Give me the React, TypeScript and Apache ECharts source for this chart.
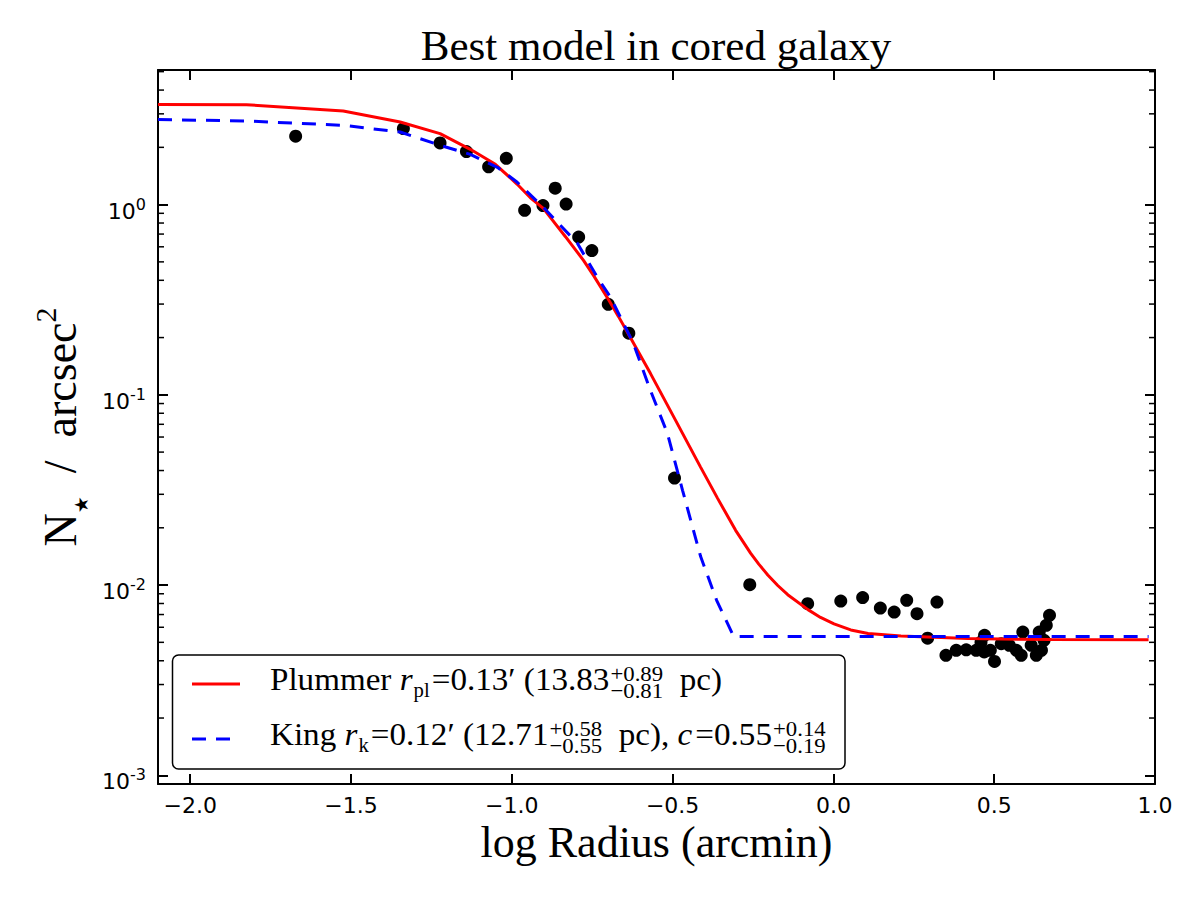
import React, { useEffect, useRef } from 'react';
import * as echarts from 'echarts';

// ---- axis ranges ----
const X_MIN = -2.1;
const X_MAX = 1.0;
const Y_MIN = 9e-4;
const Y_MAX = 5.1;

// ---- tick labels ----
const xTickValues = [-2.0, -1.5, -1.0, -0.5, 0.0, 0.5, 1.0];
const xTickLabels = ['−2.0', '−1.5', '−1.0', '−0.5', '0.0', '0.5', '1.0'];
const yTickExponents = [-3, -2, -1, 0];
const minorMantissas = [2, 3, 4, 5, 6, 7, 8, 9];

// ---- observed profile (log radius, surface density) ----
const obsLogR = [
  -1.672, -1.337, -1.223, -1.141, -1.072, -1.017, -0.96, -0.903, -0.865, -0.831,
  -0.792, -0.751, -0.7, -0.636, -0.494, -0.26, -0.08, 0.023, 0.091, 0.146,
  0.189, 0.228, 0.26, 0.322, 0.293, 0.35, 0.382, 0.413, 0.444, 0.459,
  0.47, 0.469, 0.488, 0.501, 0.522, 0.547, 0.569, 0.584, 0.589, 0.615,
  0.631, 0.647, 0.64, 0.655, 0.662, 0.672,
];
const obsDensity = [
  2.29, 2.51, 2.11, 1.9, 1.58, 1.75, 0.933, 0.988, 1.22, 1.007,
  0.675, 0.573, 0.299, 0.211, 0.0365, 0.01005, 0.00798, 0.00824, 0.00859, 0.00757,
  0.00721, 0.00831, 0.00707, 0.00814, 0.00526, 0.00427, 0.00454, 0.00457, 0.00454, 0.00501,
  0.00544, 0.00445, 0.00454, 0.00397, 0.00492, 0.00482, 0.00454, 0.00427, 0.00566, 0.00482,
  0.00427, 0.00454, 0.00566, 0.00512, 0.00614, 0.00693,
];

// ---- Plummer model curve ----
const plummerLogR = [
  -2.1, -1.825, -1.524, -1.347, -1.223, -1.129, -1.051, -0.983, -0.942, -0.902,
  -0.833, -0.777, -0.745, -0.699, -0.668, -0.637, -0.569, -0.491, -0.413, -0.36,
  -0.304, -0.257, -0.232, -0.204, -0.173, -0.142, -0.079, -0.04, 0.002, 0.054,
  0.108, 0.21, 0.419, 0.678, 0.98,
];
const plummerDensity = [
  3.356, 3.35, 3.105, 2.719, 2.362, 1.953, 1.629, 1.279, 1.086, 0.956,
  0.678, 0.5095, 0.422, 0.3158, 0.2577, 0.208, 0.1297, 0.0736, 0.0417, 0.02856,
  0.01939, 0.01468, 0.01288, 0.0113, 0.00995, 0.0089, 0.00743, 0.00676, 0.00625, 0.00581,
  0.00557, 0.0054, 0.00523, 0.00517, 0.00516,
];

// ---- King model curve ----
const kingLogR = [
  -2.1, -1.825, -1.525, -1.347, -1.223, -1.129, -1.045, -0.983, -0.902, -0.796,
  -0.734, -0.693, -0.622, -0.569, -0.516, -0.469, -0.413, -0.363, -0.31, 0.98,
];
const kingDensity = [
  2.798, 2.751, 2.612, 2.408, 2.05, 1.838, 1.571, 1.31, 0.968, 0.626,
  0.4148, 0.3256, 0.1866, 0.1056, 0.0627, 0.03147, 0.01416, 0.00831, 0.00537, 0.00537,
];

const SERIF = '"Liberation Serif", "Times New Roman", serif';
const SANS = '"DejaVu Sans", sans-serif';

function zip(a: number[], b: number[]) {
  return a.map((v, i) => [v, b[i]]);
}

let measureCtx: CanvasRenderingContext2D | null = null;
function measure(text: string, size: number, italic: boolean) {
  if (!measureCtx) measureCtx = document.createElement('canvas').getContext('2d');
  if (!measureCtx) return text.length * size * 0.5;
  measureCtx.font = `${italic ? 'italic ' : ''}${size}px "Liberation Serif"`;
  return measureCtx.measureText(text).width;
}

function txt(x: number, baseline: number, text: string, size: number, italic = false) {
  return {
    type: 'text',
    x,
    y: baseline - 0.3375 * size,
    silent: true,
    z: 101,
    style: {
      text,
      fontFamily: SERIF,
      fontSize: size,
      fontStyle: italic ? 'italic' : 'normal',
      fill: '#000',
      align: 'left',
      textAlign: 'left',
      verticalAlign: 'middle',
      textVerticalAlign: 'middle',
    },
  };
}

type Piece =
  | { t: string; size: number; italic?: boolean; dy?: number; gap?: number }
  | { sup: string; sub: string; gap?: number };

const S = 32;
const SS = 22;
const legendLine1: Piece[] = [
  { t: 'Plummer', size: S, gap: 8 },
  { t: 'r', size: S, italic: true, gap: 1 },
  { t: 'pl', size: 20, dy: 7, gap: 2 },
  { t: '=0.13′ (13.83', size: S, gap: 1 },
  { sup: '+0.89', sub: '−0.81', gap: 16 },
  { t: 'pc)', size: S },
];
const legendLine2: Piece[] = [
  { t: 'King', size: S, gap: 8 },
  { t: 'r', size: S, italic: true, gap: 1 },
  { t: 'k', size: 20, dy: 7, gap: 2 },
  { t: '=0.12′ (12.71', size: S, gap: 1 },
  { sup: '+0.58', sub: '−0.55', gap: 16 },
  { t: 'pc),', size: S, gap: 8 },
  { t: 'c', size: S, italic: true, gap: 3 },
  { t: '=0.55', size: S, gap: 1 },
  { sup: '+0.14', sub: '−0.19' },
];

function layoutLine(pieces: Piece[], baseline: number) {
  const children: any[] = [];
  let cx = 0;
  for (const p of pieces) {
    if ('sup' in p) {
      const w1 = measure(p.sup, SS, false);
      const w2 = measure(p.sub, SS, false);
      children.push(txt(cx, baseline - 9, p.sup, SS));
      children.push(txt(cx, baseline + 8, p.sub, SS));
      cx += Math.max(w1, w2) + (p.gap || 0);
    } else {
      children.push(txt(cx, baseline + (p.dy || 0), p.t, p.size, !!p.italic));
      cx += measure(p.t, p.size, !!p.italic) + (p.gap || 0);
    }
  }
  return { children, width: cx };
}

function buildLegend() {
  const l1 = layoutLine(legendLine1, 690);
  const l2 = layoutLine(legendLine2, 745);
  const k1 = 450 / l1.width;
  const k2 = 558 / l2.width;
  const k = (k1 + k2) / 2;
  return [
    {
      type: 'rect',
      z: 100,
      silent: true,
      shape: { x: 172.5, y: 655, width: 672.5, height: 114, r: 6 },
      style: { fill: '#fff', stroke: '#000', lineWidth: 1.5 },
    },
    {
      type: 'line',
      z: 101,
      silent: true,
      shape: { x1: 192, y1: 684, x2: 240, y2: 684 },
      style: { stroke: '#ff0000', lineWidth: 3 },
    },
    {
      type: 'line',
      z: 101,
      silent: true,
      shape: { x1: 192, y1: 739, x2: 240, y2: 739 },
      style: { stroke: '#0000ff', lineWidth: 3, lineDash: [14, 10] },
    },
    { type: 'group', x: 270, y: 0, scaleX: k, children: l1.children },
    { type: 'group', x: 270, y: 0, scaleX: k, children: l2.children },
  ];
}

export default function App() {
  const ref = useRef<HTMLDivElement>(null);

  useEffect(() => {
    document.body.style.margin = '0';
    if (!ref.current) return;
    const chart = echarts.init(ref.current, undefined, { renderer: 'svg' });

    const minorTicks: number[] = [];
    for (let e = -4; e <= 0; e++) {
      for (const m of minorMantissas) {
        const v = m * Math.pow(10, e);
        if (v > Y_MIN && v < Y_MAX) minorTicks.push(v);
      }
    }

    const xLabel = (val: number) => {
      const i = xTickValues.findIndex((t) => Math.abs(t - val) < 1e-6);
      return i >= 0 ? xTickLabels[i] : '';
    };
    const yLabel = (val: number) => {
      const lg = Math.log10(val);
      const e = Math.round(lg);
      if (Math.abs(lg - e) > 1e-6 || yTickExponents.indexOf(e) < 0) return '';
      return `{b|10}{s|${e}}`;
    };

    const axisLine = { show: true, onZero: false, lineStyle: { color: '#000', width: 2 } };
    const majorTick = { show: true, inside: true, length: 10, lineStyle: { color: '#000', width: 2 } };
    const nb = '\u00a0';

    const option: any = {
      animation: false,
      backgroundColor: '#fff',
      title: {
        text: 'Best model in cored galaxy',
        left: 656,
        top: 24,
        textAlign: 'center',
        padding: 0,
        textStyle: { fontFamily: SERIF, fontSize: 43, fontWeight: 'normal', color: '#000' },
      },
      grid: { left: 158, top: 70, right: 45, bottom: 116, containLabel: false },
      xAxis: [
        {
          type: 'value',
          min: X_MIN,
          max: X_MAX,
          minInterval: 0.5,
          maxInterval: 0.5,
          position: 'bottom',
          axisLine,
          axisTick: majorTick,
          splitLine: { show: false },
          axisLabel: {
            formatter: xLabel,
            margin: 10,
            color: '#000',
            fontFamily: SANS,
            fontSize: 22,
          },
          name: 'log Radius (arcmin)',
          nameLocation: 'middle',
          nameGap: 32,
          nameTextStyle: { fontFamily: SERIF, fontSize: 44, color: '#000' },
        },
        {
          type: 'value',
          min: X_MIN,
          max: X_MAX,
          minInterval: 0.5,
          maxInterval: 0.5,
          position: 'top',
          axisLine,
          axisTick: majorTick,
          splitLine: { show: false },
          axisLabel: { show: false },
        },
      ],
      yAxis: [
        {
          type: 'log',
          logBase: 10,
          min: Y_MIN,
          max: Y_MAX,
          position: 'left',
          axisLine,
          axisTick: majorTick,
          splitLine: { show: false },
          axisLabel: {
            formatter: yLabel,
            margin: 12,
            color: '#000',
            padding: [13, 0, 0, 0],
            rich: {
              b: { fontFamily: SANS, fontSize: 22, lineHeight: 30, verticalAlign: 'middle', color: '#000' },
              s: { fontFamily: SANS, fontSize: 16, lineHeight: 13, verticalAlign: 'top', color: '#000' },
            },
          },
          name: `{n|N}{st|★}{n|${nb}${nb}/${nb}${nb}arcsec}{sup|2}`,
          nameLocation: 'middle',
          nameRotate: 90,
          nameGap: 68,
          nameTextStyle: {
            color: '#000',
            rich: {
              n: { fontFamily: SERIF, fontSize: 46, lineHeight: 60, verticalAlign: 'middle', color: '#000' },
              st: { fontFamily: SANS, fontSize: 19, lineHeight: 18, verticalAlign: 'bottom', color: '#000' },
              sup: { fontFamily: SERIF, fontSize: 30, lineHeight: 40, verticalAlign: 'top', color: '#000' },
            },
          },
        },
        {
          type: 'log',
          logBase: 10,
          min: Y_MIN,
          max: Y_MAX,
          position: 'right',
          axisLine,
          axisTick: majorTick,
          splitLine: { show: false },
          axisLabel: { show: false },
        },
      ],
      graphic: { elements: buildLegend() },
      series: [
        {
          name: 'data',
          type: 'scatter',
          data: zip(obsLogR, obsDensity),
          symbol: 'circle',
          symbolSize: 13,
          itemStyle: { color: '#000', opacity: 1 },
          z: 2,
          silent: true,
        },
        {
          name: 'Plummer',
          type: 'line',
          data: zip(plummerLogR, plummerDensity),
          showSymbol: false,
          symbol: 'none',
          lineStyle: { color: '#ff0000', width: 3 },
          z: 3,
          silent: true,
        },
        {
          name: 'King',
          type: 'line',
          data: zip(kingLogR, kingDensity),
          showSymbol: false,
          symbol: 'none',
          lineStyle: { color: '#0000ff', width: 3, type: [14, 10], cap: 'butt' },
          z: 4,
          silent: true,
        },
        {
          name: 'minor ticks',
          type: 'custom',
          coordinateSystem: 'cartesian2d',
          silent: true,
          clip: false,
          z: 10,
          data: minorTicks.map((v) => [X_MIN, v]),
          encode: { x: 0, y: 1 },
          renderItem: (params: any, api: any) => {
            const v = api.value(1);
            const l = api.coord([X_MIN, v]);
            const r = api.coord([X_MAX, v]);
            return {
              type: 'group',
              children: [
                {
                  type: 'line',
                  shape: { x1: l[0], y1: l[1], x2: l[0] + 6, y2: l[1] },
                  style: { stroke: '#000', lineWidth: 1.5 },
                },
                {
                  type: 'line',
                  shape: { x1: r[0] - 6, y1: r[1], x2: r[0], y2: r[1] },
                  style: { stroke: '#000', lineWidth: 1.5 },
                },
              ],
            };
          },
        },
      ],
    };

    chart.setOption(option);
    return () => {
      chart.dispose();
    };
  }, []);

  return <div ref={ref} style={{ width: 1200, height: 900 }} />;
}
